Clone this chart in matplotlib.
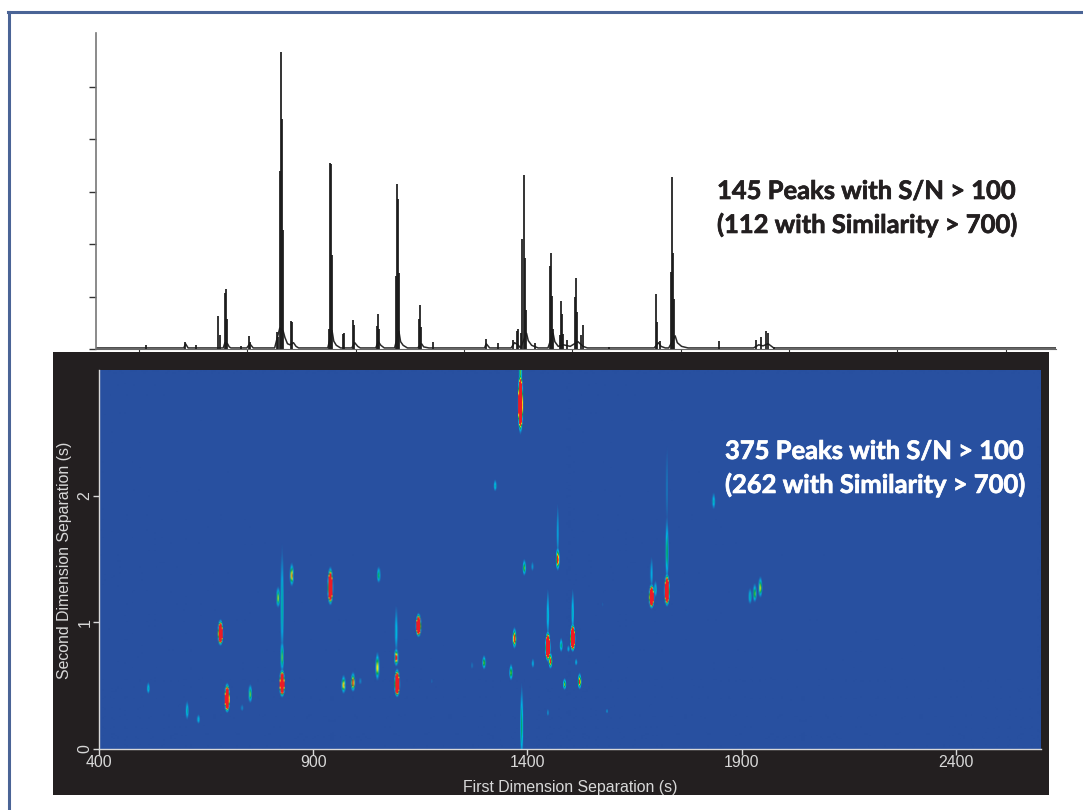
#!/usr/bin/env python3

import matplotlib
matplotlib.use("Agg")
import matplotlib.pyplot as plt
import matplotlib.patheffects as pe
from matplotlib.colors import LinearSegmentedColormap
from matplotlib.lines import Line2D
from matplotlib.patches import Rectangle
import numpy as np

W, H = 1083, 810

# --- 1D trace: sticks (time in s, height in tick units) ---
stick_t = [509.7, 600.7, 627, 678.4, 682.4, 694, 695.7, 698, 730.7, 750, 752, 814.8, 818.5,
           822.5, 824.8, 827.1, 829.5, 847.4, 851.2, 937.5, 939.2, 941.5, 943.8, 970.2, 972.5,
           992.1, 995.2, 1048.2, 1050.5, 1053.5, 1093.2, 1095.5, 1097.9, 1100.2, 1146.9, 1149.2,
           1151.5, 1180.2, 1302.8, 1330.6, 1365.6, 1375.6, 1377, 1385, 1388, 1391.5, 1394.3, 1397,
           1418.6, 1451.7, 1454.5, 1457.3, 1459.6, 1475, 1477.8, 1480.6, 1483, 1492.3, 1511,
           1513.3, 1516.4, 1524.5, 1529, 1589.9, 1700, 1703, 1709.4, 1735, 1738, 1740.9, 1743.4,
           1847, 1933, 1944.6, 1958, 1960.7, 1975]
stick_h = [0.07, 0.13, 0.08, 0.63, 0.26, 1.07, 1.15, 0.58, 0.06, 0.25, 0.13, 0.32, 0.23,
           3.4, 5.65, 4.38, 2.26, 0.53, 0.51, 0.39, 3.55, 3.53, 1.79, 0.29, 0.30,
           0.55, 0.45, 0.43, 0.67, 0.39, 1.39, 3.15, 2.85, 1.45, 0.57, 0.83,
           0.42, 0.13, 0.2, 0.11, 0.17, 0.34, 0.39, 0.3, 2.1, 3.31, 1.74, 0.75,
           0.11, 1.59, 1.82, 1.01, 0.39, 0.26, 0.91, 0.67, 0.29, 0.17, 0.99,
           1.36, 0.7, 0.26, 0.45, 0.04, 1.04, 0.51, 0.15, 1.47, 3.27, 1.82, 0.95,
           0.15, 0.17, 0.23, 0.34, 0.3, 0.04]

# tail outline under the peaks, on top of a flat baseline
outline_t = [393, 598, 602, 608, 690, 694, 700, 704, 708, 745, 752, 760, 810, 822, 830, 834, 840, 846, 854, 860, 866,
             934, 944, 948, 954, 964, 990, 997, 1004, 1010, 1046, 1052, 1058, 1066,
             1090, 1100, 1104, 1110, 1120, 1144, 1153, 1158, 1170, 1300, 1304, 1312, 1362, 1370, 1378, 1384,
             1398, 1402, 1410, 1425, 1448, 1460, 1464, 1472, 1484, 1500, 1518, 1530, 1540, 1696, 1706, 1712, 1722,
             1730, 1745, 1750, 1760, 1775, 1928, 1940, 1950, 1962, 1975, 2634]
outline_h = [0.02, 0.02, 0.1, 0.02, 0.02, 0.12, 0.1, 0.04, 0.02, 0.02, 0.1, 0.02, 0.02, 0.4, 0.34, 0.22, 0.1, 0.08, 0.12, 0.05, 0.02,
             0.02, 0.35, 0.15, 0.07, 0.02, 0.02, 0.12, 0.05, 0.02, 0.02, 0.14, 0.07, 0.02,
             0.02, 0.34, 0.14, 0.07, 0.02, 0.02, 0.1, 0.04, 0.02, 0.02, 0.1, 0.02, 0.02, 0.12, 0.08, 0.02,
             0.3, 0.16, 0.07, 0.02, 0.02, 0.3, 0.14, 0.05, 0.08, 0.05, 0.14, 0.05, 0.02, 0.02, 0.12, 0.05, 0.02,
             0.02, 0.25, 0.12, 0.05, 0.02, 0.02, 0.08, 0.06, 0.1, 0.02, 0.02]

top_yticks = [0, 1, 2, 3, 4, 5]
top_xticks = [493, 746, 999, 1252, 1505, 1758, 2011, 2264, 2517]

# --- 2D plot blobs ---
blob_t = [514, 604.6, 631, 682.4, 698, 733, 752, 817, 826.4, 849, 826.4, 826.4, 939, 970, 992, 1009, 1052,
          1049, 1093, 1095, 1093, 1145, 1176, 1383, 1383, 1324, 1834, 1470, 1470, 1392, 1411, 1689, 1689, 1698,
          1725, 1725, 1725, 1919, 1930, 1943, 1369, 1298, 1270, 1361, 1412, 1447, 1453, 1447,
          1478, 1495, 1505, 1505, 1513, 1486, 1521, 1447, 1585, 1386, 1575]
blob_s = [0.474, 0.295, 0.229, 0.907, 0.387, 0.32, 0.427, 1.19, 0.506, 1.368, 1.11, 0.72, 1.27, 0.50, 0.519, 0.532, 1.37,
          0.638, 0.717, 0.506, 0.92, 0.967, 0.532, 2.72, 2.98, 2.08, 1.955, 1.494, 1.70, 1.428, 1.44, 1.196, 1.38, 1.257,
          1.243, 1.55, 2.05, 1.2, 1.225, 1.27, 0.867, 0.677, 0.656, 0.598, 0.672, 0.796, 0.69, 1.05,
          0.814, 0.788, 0.867, 1.07, 0.682, 0.506, 0.527, 0.282, 0.295, 0.17, 1.14]
# half length along the second dimension (s) and peak intensity 0-1
blob_hl = [0.05, 0.08, 0.04, 0.11, 0.125, 0.03, 0.08, 0.09, 0.12, 0.10, 0.46, 0.14, 0.16, 0.08, 0.085, 0.03, 0.07,
           0.12, 0.08, 0.12, 0.2, 0.10, 0.02, 0.27, 0.14, 0.05, 0.07, 0.10, 0.22, 0.07, 0.04, 0.105, 0.13, 0.07,
           0.14, 0.28, 0.32, 0.07, 0.08, 0.09, 0.09, 0.06, 0.03, 0.07, 0.04, 0.13, 0.07, 0.2,
           0.06, 0.03, 0.12, 0.18, 0.03, 0.05, 0.07, 0.03, 0.02, 0.32, 0.02]
blob_i = [0.3, 0.33, 0.28, 1, 1, 0.18, 0.52, 0.58, 1, 0.72, 0.36, 0.5, 1, 0.7, 0.88, 0.18, 0.45,
          0.68, 0.88, 1, 0.3, 1, 0.12, 1, 0.5, 0.33, 0.33, 0.9, 0.22, 0.5, 0.2, 1, 0.25, 0.33,
          1, 0.42, 0.15, 0.33, 0.52, 0.62, 0.92, 0.52, 0.14, 0.52, 0.24, 1, 0.82, 0.3,
          0.38, 0.24, 1, 0.3, 0.24, 0.52, 0.78, 0.18, 0.18, 0.4, 0.1]

x_ticks = [400, 900, 1400, 1900, 2400]
y_ticks = [0, 1, 2]

text_top = "145 Peaks with S/N > 100\n(112 with Similarity > 700)"
text_low = "375 Peaks with S/N > 100\n(262 with Similarity > 700)"

EDGE = 0.08  # colour scale leaves the background blue here


def frac_box(left, top, right, bottom):
    return [left / W, 1 - bottom / H, (right - left) / W, (bottom - top) / H]


fig = plt.figure(figsize=(W / 100, H / 100), dpi=100, facecolor="white")

# --- frame: only the left and top rules are in the picture ---
frame_col = "#4a6496"
fig.add_artist(Line2D([8.5 / W, 8.5 / W], [0, 1 - 12 / H], color=frame_col, linewidth=2.2, zorder=0.2))
fig.add_artist(Line2D([7.5 / W, 1], [1 - 12 / H, 1 - 12 / H], color=frame_col, linewidth=2.2, zorder=0.2))
fig.add_artist(Rectangle((53 / W, 1 - 795 / H), 996 / W, 443 / H, transform=fig.transFigure,
                         facecolor="#231f20", edgecolor="none", zorder=0.5))

# --- top trace ---
ax1 = fig.add_axes(frac_box(96, 33, 1056, 349), zorder=0.3)
ax1.patch.set_alpha(0)
ax1.plot(outline_t, outline_h, color="#2a2a2a", linewidth=1.1)
ax1.vlines(stick_t, 0, stick_h, color="#1a1a1a", linewidth=1.25)
ax1.set_xlim(393, 2634)
ax1.set_ylim(0, 6.02)
ax1.set_yticks(top_yticks)
ax1.set_yticklabels([])
ax1.set_xticks(top_xticks)
ax1.set_xticklabels([])
ax1.tick_params(axis="y", length=5, width=1.0, color="#333333")
ax1.tick_params(axis="x", length=2, width=0.8, color="#333333")
for side in ("top", "right"):
    ax1.spines[side].set_visible(False)
ax1.spines["left"].set_color("#777777")
ax1.spines["bottom"].set_color("#666666")
ax1.spines["left"].set_linewidth(1.2)

# --- 2D plot, built column by column from the blob table ---
ax2 = fig.add_axes(frac_box(99, 370, 1041, 749), zorder=2)
x_lim = (400, 2599)
y_lim = (0, 2.996)
col_t = np.arange(x_lim[0], x_lim[1], 2.33)
row_s = np.linspace(y_lim[0], y_lim[1], 380)
grid = np.zeros((row_s.size, col_t.size))
for t, s, hl, amp in zip(blob_t, blob_s, blob_hl, blob_i):
    # full scale peaks saturate the detector, so their red core is long
    top = 6.0 if amp >= 0.95 else amp * 1.18
    sigma0 = hl / np.sqrt(2 * np.log(top / EDGE))
    sigma = np.where(row_s > s, sigma0 * 1.12, sigma0 * 0.88)
    column = top * np.exp(-0.5 * ((row_s - s) / sigma) ** 2)
    across = np.exp(-0.5 * ((col_t - t) / 2.4) ** 2)
    grid = np.maximum(grid, np.outer(column, across))
grid = np.clip(grid, 0, 1)

cmap = LinearSegmentedColormap.from_list(
    "gc", [(0, "#2850a0"), (EDGE, "#2850a0"), (0.3, "#00b4e6"), (0.5, "#00a650"),
           (0.72, "#f5ea14"), (0.86, "#ed1c24"), (1, "#ed1c24")])
ax2.imshow(grid, origin="lower", aspect="auto", cmap=cmap, vmin=0, vmax=1,
           extent=[x_lim[0], x_lim[1], y_lim[0], y_lim[1]], interpolation="bilinear")
ax2.set_xlim(x_lim)
ax2.set_ylim(y_lim)
ax2.set_xticks(x_ticks)
ax2.set_yticks(y_ticks)
ax2.set_yticklabels(y_ticks, rotation=90, va="center")
ax2.tick_params(colors="#d8d8d8", labelsize=11.4, length=4, width=1.0, pad=0.5)
for side in ("top", "right"):
    ax2.spines[side].set_visible(False)
for side in ("left", "bottom"):
    ax2.spines[side].set_color("#d8d8d8")
    ax2.spines[side].set_linewidth(1.0)
plt.setp(ax2.get_xticklabels() + ax2.get_yticklabels(), family="Liberation Sans")
ax2.set_xlabel("First Dimension Separation (s)", color="#d8d8d8", fontsize=11.4,
               family="Liberation Sans")
ax2.set_ylabel("Second Dimension Separation (s)", color="#d8d8d8", fontsize=11.4,
               family="Liberation Sans")
ax2.xaxis.set_label_coords(0.5, -0.083)
ax2.yaxis.set_label_coords(-0.029, 0.497)

# --- annotations ---
t1 = fig.text(717 / W, 1 - 179 / H, text_top, color="#231f20", family="Lato", weight="bold",
              fontsize=18.4, va="top", linespacing=1.42, zorder=5)
t1.set_path_effects([pe.withStroke(linewidth=0.5, foreground="#231f20")])
t2 = fig.text(725 / W, 1 - 439 / H, text_low, color="white", family="Lato", weight="bold",
              fontsize=18.4, va="top", linespacing=1.42, zorder=5)
t2.set_path_effects([pe.withStroke(linewidth=0.5, foreground="white")])

fig.savefig("out.png", dpi=100)
